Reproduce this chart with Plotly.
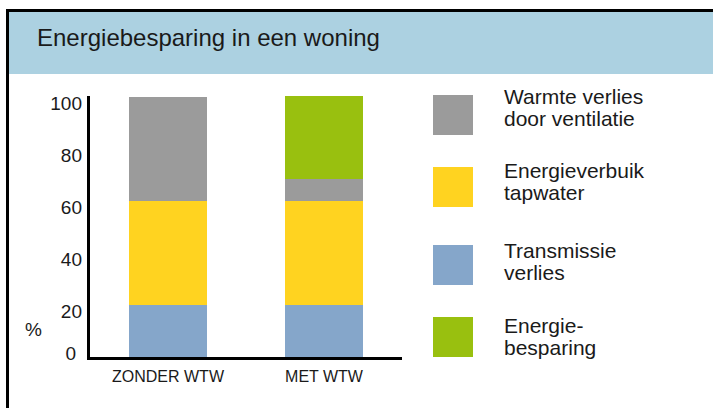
import plotly.graph_objects as go

# ---- data ----
categories = ["ZONDER WTW", "MET WTW"]
transmissie = [20, 20]
tapwater = [40, 40]
ventilatie = [40, 8.5]
besparing = [0, 32]
y_ticks = [0, 20, 40, 60, 80, 100]
series_names = ["Transmissie\nverlies", "Energieverbuik\ntapwater",
                "Warmte verlies\ndoor ventilatie", "Energie-\nbesparing"]
title_text = "Energiebesparing in een woning"
unit_text = "%"

# ---- style ----
W, H = 713, 408
ML, MR, MT, MB = 90, 311, 96, 51
PW, PH = W - ML - MR, H - MT - MB
Y_MAX = 100.5
LABEL_DROP_PX = 6.5  # tick labels sit slightly below their level in the original
colors = ["#85A6CA", "#FFD320", "#9B9B9B", "#99C00F"]
TXT = "#1A1A1A"
FONT = "Liberation Sans, Arial, sans-serif"


def px(xp):
    return (xp - ML) / PW


def py(yp):
    return (H - MB - yp) / PH


fig = go.Figure()
for vals, name, col in zip([transmissie, tapwater, ventilatie, besparing], series_names, colors):
    fig.add_trace(go.Bar(x=categories, y=vals, name=name.replace("\n", " "),
                         marker=dict(color=col, line=dict(width=0)), width=0.5,
                         showlegend=False, hoverinfo="skip"))
# empty helper trace so that the label-only overlay axis is rendered
fig.add_trace(go.Scatter(x=[], y=[], yaxis="y2", showlegend=False, hoverinfo="skip"))

shapes = []
annotations = []

# frame + header band
shapes.append(dict(type="rect", xref="paper", yref="paper", x0=px(7), x1=px(713), y0=py(74), y1=py(11),
                   fillcolor="#ACD1E1", line=dict(width=0), layer="below"))
shapes.append(dict(type="line", xref="paper", yref="paper", x0=px(6), x1=px(713), y0=py(10.5), y1=py(10.5),
                   line=dict(color="black", width=3)))
shapes.append(dict(type="line", xref="paper", yref="paper", x0=px(7.5), x1=px(7.5), y0=py(9), y1=py(408),
                   line=dict(color="black", width=3)))

annotations.append(dict(text=title_text, xref="paper", yref="paper", x=px(35), y=py(37),
                        xanchor="left", yanchor="middle", showarrow=False,
                        font=dict(family=FONT, size=24, color=TXT)))
annotations.append(dict(text=unit_text, xref="paper", yref="paper", x=px(33), y=py(329),
                        xanchor="center", yanchor="middle", showarrow=False,
                        font=dict(family=FONT, size=19, color=TXT)))

# custom legend (order top to bottom), pixel layout per item: (square top, first text line centre)
legend_order = [2, 1, 0, 3]
legend_layout = [(95, 96), (167, 170), (245, 250), (317, 325)]
for idx, (sq_top, txt_y) in zip(legend_order, legend_layout):
    shapes.append(dict(type="rect", xref="paper", yref="paper", x0=px(433), x1=px(473),
                       y0=py(sq_top + 40), y1=py(sq_top), fillcolor=colors[idx], line=dict(width=0)))
    for k, line in enumerate(series_names[idx].split("\n")):
        annotations.append(dict(text=line, xref="paper", yref="paper", x=px(502), y=py(txt_y + 22 * k),
                                xanchor="left", yanchor="middle", showarrow=False,
                                font=dict(family=FONT, size=21, color=TXT)))

shift = LABEL_DROP_PX * Y_MAX / PH
fig.update_layout(
    width=W, height=H,
    margin=dict(l=ML, r=MR, t=MT, b=MB, pad=0),
    paper_bgcolor="white", plot_bgcolor="white",
    barmode="stack", bargap=0.5,
    showlegend=False,
    shapes=shapes, annotations=annotations,
    xaxis=dict(range=[-0.5, 1.5], showline=True, linecolor="black", linewidth=3,
               showgrid=False, zeroline=False, ticks="", ticklabelstandoff=3,
               tickfont=dict(family=FONT, size=16, color=TXT), fixedrange=True),
    yaxis=dict(range=[0, Y_MAX], showline=True, linecolor="black", linewidth=3,
               showgrid=False, zeroline=False, ticks="", tickvals=y_ticks[:1],
               ticktext=[str(v) for v in y_ticks[:1]], ticklabelstandoff=7, ticklabelshift=-4,
               tickfont=dict(family=FONT, size=19, color=TXT), fixedrange=True),
    yaxis2=dict(overlaying="y", anchor="x", side="left", range=[shift, Y_MAX + shift],
                showline=False, showgrid=False, zeroline=False, ticks="",
                tickvals=y_ticks[1:], ticktext=[str(v) for v in y_ticks[1:]],
                ticklabelstandoff=7, tickfont=dict(family=FONT, size=19, color=TXT),
                fixedrange=True),
)

fig.write_html("out.html", config={"displayModeBar": False},
               post_script="document.body.style.margin='0';")
